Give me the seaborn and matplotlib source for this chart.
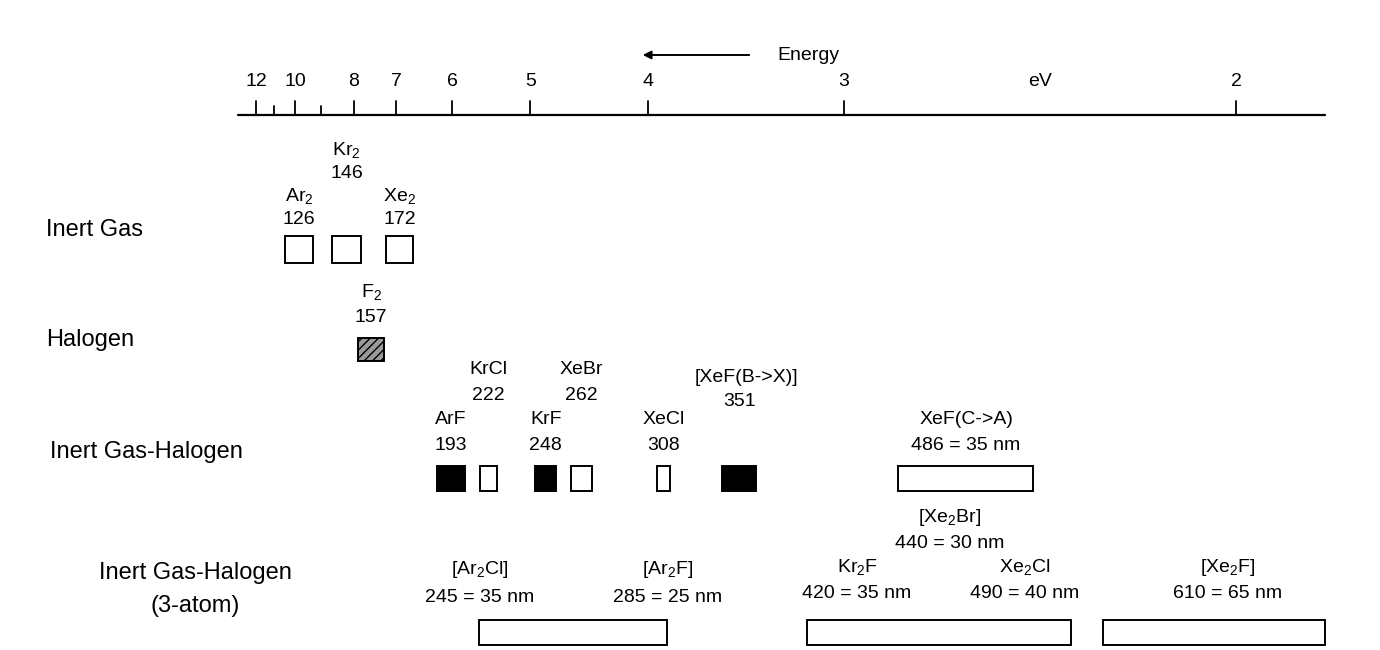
import matplotlib
matplotlib.use("Agg")
import matplotlib.pyplot as plt
import matplotlib.patches as mpatches
import seaborn as sns

# energy ticks (eV) on a wavelength (nm) axis
major_ev = [12, 10, 8, 7, 6, 5, 4, 3, 2]
minor_ev = [11, 9]

# single boxes: label, wavelength (nm), box center (nm), box width (nm), fill
inert = [("Ar$_2$", "126", 126, 15), ("Kr$_2$", "146", 151, 15), ("Xe$_2$", "172", 179, 14)]
halogen = [("F$_2$", "157", 164, 14)]
ig_hal = [("ArF", "193", 206, 15, "black"), ("KrCl", "222", 226, 9, "white"),
          ("KrF", "248", 256, 11, "black"), ("XeBr", "262", 275, 11, "white"),
          ("XeCl", "308", 318, 7, "white"), ("[XeF(B->X)]", "351", 358, 18, "black")]
# broad bands: start, end (nm)
xef_ca = (442, 513)
three_atom = [(221, 320), (394, 533), (550, 667)]

PX0, PXNM = 60.0, 1.897  # pixel = PX0 + PXNM * nm


def nm(px):
    return (px - PX0) / PXNM


sns.set_theme(style="white")
plt.rcParams["font.family"] = ["Liberation Sans", "DejaVu Sans"]
plt.rcParams["mathtext.default"] = "regular"
plt.rcParams["text.color"] = "black"

fig = plt.figure(figsize=(13.8, 6.5), dpi=100)
ax = fig.add_axes([0, 0, 1, 1])
ax.set_xlim(nm(0), nm(1380))
ax.set_ylim(650, 0)
ax.axis("off")

fs = 14
kw = dict(ha="center", va="center", fontsize=fs, fontweight="medium")

# energy axis
ax.plot([nm(238), nm(1325)], [115, 115], color="black", lw=1.6)
for e in major_ev:
    w = 1240 / e
    ax.plot([w, w], [115, 101], color="black", lw=1.3)
    ax.text(w, 82, str(e), **kw)
for e in minor_ev:
    w = 1240 / e
    ax.plot([w, w], [115, 106], color="black", lw=1.3)
ax.text(nm(1040), 82, "eV", **kw)
ax.annotate("", xy=(nm(640), 55), xytext=(nm(752), 55),
            arrowprops=dict(arrowstyle="-|>", color="black", lw=1.4))
ax.text(nm(808), 55, "Energy", **kw)


def box(x0, x1, y0, y1, fc="white", hatch=None):
    ax.add_patch(mpatches.Rectangle((x0, y0), x1 - x0, y1 - y0, facecolor=fc,
                                    edgecolor="black", lw=1.4, hatch=hatch))

# row labels
rk = dict(va="center", fontsize=17, fontweight="medium")
ax.text(nm(46), 230, "Inert Gas", ha="left", **rk)
ax.text(nm(46), 340, "Halogen", ha="left", **rk)
ax.text(nm(50), 452, "Inert Gas-Halogen", ha="left", **rk)
ax.text(nm(195), 573, "Inert Gas-Halogen", ha="center", **rk)
ax.text(nm(195), 606, "(3-atom)", ha="center", **rk)

# inert gas dimers
name_y = [196, 150, 196]
for (name, val, c, w), ny in zip(inert, name_y):
    box(c - w / 2, c + w / 2, 236, 263)
    ax.text(c, ny, name, **kw)
    ax.text(c, ny + 24, val, **kw)

# halogen
for name, val, c, w in halogen:
    box(c - w / 2, c + w / 2, 338, 361, fc="#9a9a9a", hatch="////")
    ax.text(c, 292, name, **kw)
    ax.text(c, 318, val, **kw)

# inert gas-halogen
label_y = {"ArF": 420, "KrCl": 370, "KrF": 420, "XeBr": 370, "XeCl": 420, "[XeF(B->X)]": 377}
for name, val, c, w, fc in ig_hal:
    box(c - w / 2, c + w / 2, 466, 491, fc=fc)
    y = label_y[name]
    ax.text(c + (4 if name.startswith("[") else 0), y, name, **kw)
    ax.text(c, y + 25, val, **kw)
box(xef_ca[0], xef_ca[1], 466, 491)
ax.text(nm(966), 420, "XeF(C->A)", **kw)
ax.text(nm(966), 446, "486 = 35 nm", **kw)

# three-atom
for x0, x1 in three_atom:
    box(x0, x1, 620, 645)
tri_labels = [("[Ar$_2$Cl]", "245 = 35 nm", 480, 570), ("[Ar$_2$F]", "285 = 25 nm", 668, 570),
              ("Kr$_2$F", "420 = 35 nm", 857, 567), ("Xe$_2$Cl", "490 = 40 nm", 1025, 567),
              ("[Xe$_2$F]", "610 = 65 nm", 1228, 567), ("[Xe$_2$Br]", "440 = 30 nm", 950, 517)]
for name, val, px, y in tri_labels:
    ax.text(nm(px), y, name, **kw)
    ax.text(nm(px), y + 27, val, **kw)

fig.savefig("out.png", dpi=100)
